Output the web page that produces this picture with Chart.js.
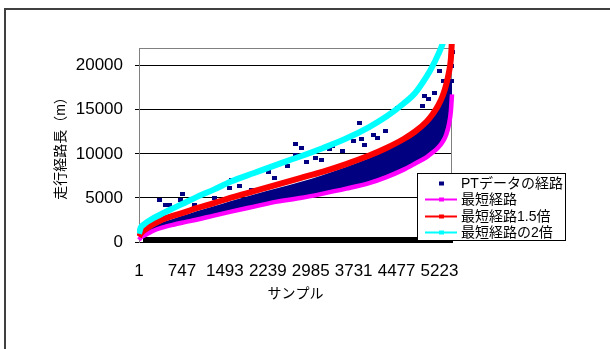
<!DOCTYPE html>
<html><head><meta charset="utf-8">
<script src="https://cdn.jsdelivr.net/npm/chart.js@4.4.1/dist/chart.umd.min.js"></script>
<style>
html,body{margin:0;padding:0;width:610px;height:349px;overflow:hidden;background:#fff;}
#frame{position:absolute;left:4px;top:8px;width:700px;height:400px;border:2px solid #404040;box-sizing:border-box;}
#c{position:absolute;left:0;top:0;}
</style></head><body>
<div id="frame"></div>
<canvas id="c" width="610" height="349"></canvas>
<script>
// ---- data ----
const seriesNames = ['PTデータの経路', '最短経路', '最短経路1.5倍', '最短経路の2倍'];
const xTicks = [1, 747, 1493, 2239, 2985, 3731, 4477, 5223];
const yTicks = [0, 5000, 10000, 15000, 20000];

const sampleNo   = [1, 30, 80, 150, 250, 400, 600, 800, 1000, 1300, 1600, 2000, 2400, 2800, 3200, 3600, 4000, 4300, 4600, 4800, 5000, 5100, 5200, 5280, 5340, 5390, 5420, 5440];
const shortest   = [250, 490, 700, 940, 1280, 1620, 1960, 2250, 2530, 2990, 3440, 4010, 4580, 4980, 5490, 6050, 6680, 7360, 8210, 8900, 9630, 10140, 10710, 11390, 12190, 13440, 14800, 16730];
const shortest15 = [600, 940, 1280, 1620, 2020, 2530, 2990, 3390, 3840, 4410, 5030, 5770, 6510, 7250, 7990, 8840, 9800, 10660, 11680, 12530, 13670, 14460, 15480, 16620, 17870, 19350, 20720, 23000];
const shortest2  = [940, 1620, 1960, 2310, 2700, 3210, 3840, 4460, 5090, 5940, 6850, 7820, 8780, 9690, 10660, 11730, 13040, 14230, 15710, 16900, 18780, 19910, 21280, 22530, 24000, 26000, 28000, 30000];
// upper edge of the dense PT-data cloud (the cloud sits on the shortest-path line)
const ptDenseTop = [400, 700, 1000, 1300, 1700, 2200, 2650, 3050, 3500, 4050, 4650, 5400, 6100, 6800, 7600, 8500, 9500, 10400, 11500, 12400, 13600, 14500, 15500, 16500, 17500, 18300, 18500, 18000];
// individual PT-data markers visible outside the dense cloud
const ptSampleNo = [352, 455, 535, 727, 762, 970, 1318, 1579, 1605, 1753, 1962, 2249, 2362, 2588, 2722, 2825, 2728, 2919, 3075, 3180, 3319, 3366, 3535, 3563, 3737, 3876, 3911, 3841, 4076, 4144, 4276, 4485, 4920, 4955, 5024, 5129, 5228, 5432, 5440, 5432, 5296];
const ptLength   = [4800, 4240, 4240, 4800, 5450, 4240, 5030, 6170, 7080, 6400, 5940, 7950, 7300, 8590, 11170, 10680, 9920, 9040, 9580, 9350, 10490, 10860, 10290, 11620, 11430, 11700, 11050, 13440, 12190, 11810, 12640, 15220, 15400, 16540, 16170, 16930, 19380, 19950, 21500, 18240, 18240];

// ---- drawing ----
const FONT = '"Liberation Sans", Arial, "Noto Sans CJK JP", sans-serif';
Chart.defaults.font.family = FONT;
Chart.defaults.color = '#000';

const NAVY = '#000080';
const ptMarker = document.createElement('canvas');
ptMarker.width = 5; ptMarker.height = 4;
(function(){ const g = ptMarker.getContext('2d'); g.fillStyle = NAVY; g.fillRect(0,0,5,4); })();

const toXY = (xs, ys) => xs.map((x, i) => ({x: x, y: ys[i]}));

const frameAndBar = {
  id: 'frameAndBar',
  beforeDatasetsDraw(chart) {
    const {ctx, chartArea: a} = chart;
    ctx.save();
    ctx.strokeStyle = '#808080'; ctx.lineWidth = 1;
    ctx.beginPath();
    ctx.moveTo(a.left, a.top + 0.5); ctx.lineTo(a.right - 0.5, a.top + 0.5); ctx.lineTo(a.right - 0.5, a.bottom);
    ctx.stroke();
    ctx.fillStyle = '#000';
    ctx.fillRect(a.left + 4, a.bottom - 5, a.right - a.left - 3, 6);
    ctx.restore();
  }
};

const boxLegend = {
  id: 'boxLegend',
  afterDraw(chart) {
    const {ctx, chartArea: a} = chart;
    const L = a.right - 35, T = a.top + 125, W = 148, H = 67;
    ctx.save();
    ctx.fillStyle = '#fff'; ctx.fillRect(L, T, W, H);
    ctx.strokeStyle = '#000'; ctx.lineWidth = 1; ctx.strokeRect(L + 0.5, T + 0.5, W, H);
    ctx.font = '14px ' + FONT; ctx.textBaseline = 'middle'; ctx.textAlign = 'left';
    chart.data.datasets.slice(0, 4).forEach((ds, i) => {
      const y = Math.round(T + 10 + i * 16.3);
      const col = ds.legendColor;
      if (i > 0) {
        ctx.strokeStyle = col; ctx.lineWidth = 2;
        ctx.beginPath(); ctx.moveTo(L + 8, y + 0.5); ctx.lineTo(L + 40, y + 0.5); ctx.stroke();
      }
      ctx.fillStyle = col; ctx.fillRect(L + 22, y - 1.5, 5, 4);
      ctx.fillStyle = '#000'; ctx.fillText(ds.label, L + 44, y + 1);
    });
    ctx.restore();
  }
};

const clip = {left: 2, top: 4, right: 3, bottom: 2};

new Chart(document.getElementById('c'), {
  type: 'line',
  data: {
    datasets: [
      {label: seriesNames[0], legendColor: NAVY, data: toXY(ptSampleNo, ptLength), showLine: false,
       pointStyle: ptMarker, pointRadius: 3, borderColor: NAVY, backgroundColor: NAVY, order: 3, clip: clip},
      {label: seriesNames[1], legendColor: '#FF00FF', data: toXY(sampleNo, shortest), borderColor: '#FF00FF', borderWidth: 4.5,
       pointRadius: 0, cubicInterpolationMode: 'monotone', order: 2, clip: clip},
      {label: seriesNames[2], legendColor: '#FF0000', data: toXY(sampleNo, shortest15), borderColor: '#FF0000', borderWidth: 6,
       pointRadius: 0, cubicInterpolationMode: 'monotone', order: 1, clip: clip},
      {label: seriesNames[3], legendColor: '#00FFFF', data: toXY(sampleNo, shortest2), borderColor: '#00FFFF', borderWidth: 6,
       pointRadius: 0, cubicInterpolationMode: 'monotone', order: 0, clip: clip},
      {label: 'PT dense', legendColor: NAVY, data: toXY(sampleNo, ptDenseTop), borderColor: 'rgba(0,0,0,0)', borderWidth: 1,
       pointRadius: 0, cubicInterpolationMode: 'monotone', fill: {target: 1}, backgroundColor: NAVY, order: 4, clip: clip}
    ]
  },
  options: {
    responsive: false, animation: false, devicePixelRatio: 1,
    layout: {padding: {left: 53, top: 48, right: 158, bottom: 46}},
    plugins: {legend: {display: false}, tooltip: {enabled: false}},
    scales: {
      x: {
        type: 'linear', min: 1, max: 5440,
        afterBuildTicks: s => { s.ticks = xTicks.map(v => ({value: v})); },
        afterFit: s => { s.height = 61; },
        grid: {display: false}, border: {display: false},
        ticks: {font: {size: 17}, padding: 11, maxRotation: 0, autoSkip: false, callback: v => String(v)},
        title: {display: true, text: 'サンプル', font: {size: 14}, padding: 0}
      },
      y: {
        min: 0, max: 22000,
        afterBuildTicks: s => { s.ticks = yTicks.map(v => ({value: v})); },
        afterFit: s => { s.width = 86; },
        grid: {color: '#000', lineWidth: 1, drawTicks: true, tickLength: 4},
        border: {color: '#808080'},
        ticks: {font: {size: 17}, padding: 12, callback: v => String(v)},
        title: {display: true, text: '走行経路長（m）', font: {size: 14}, padding: 0}
      }
    }
  },
  plugins: [frameAndBar, boxLegend]
});
</script></body></html>
